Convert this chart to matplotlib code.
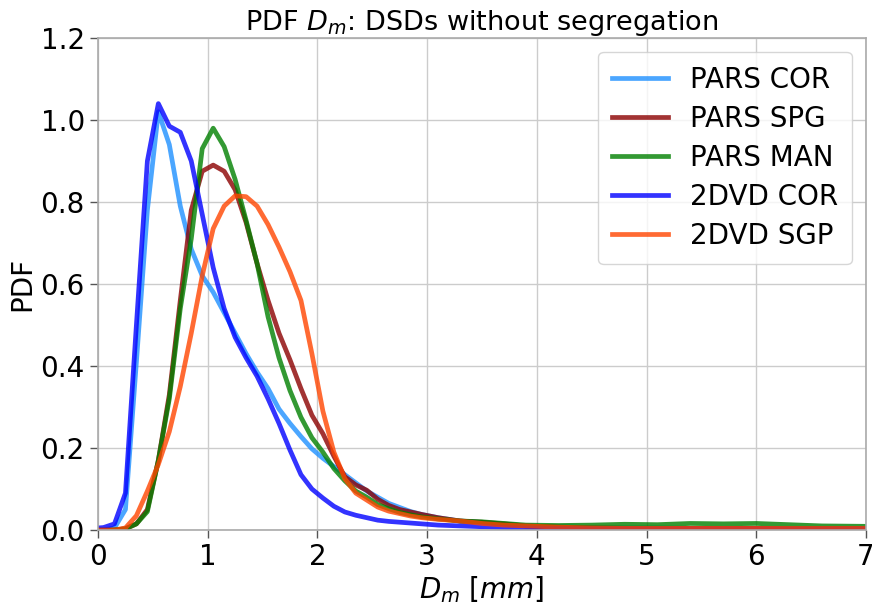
import numpy as np
import matplotlib
matplotlib.use("Agg")
import matplotlib.pyplot as plt

# Dm grid (mm)
dm = [0.0, 0.05, 0.15, 0.25, 0.35, 0.45, 0.55, 0.65, 0.75, 0.85, 0.95,
      1.05, 1.15, 1.25, 1.35, 1.45, 1.55, 1.65, 1.75, 1.85, 1.95,
      2.05, 2.15, 2.25, 2.35, 2.45, 2.55, 2.65, 2.75, 2.85, 2.95,
      3.1, 3.3, 3.5, 3.7, 3.9, 4.2, 4.5, 4.8, 5.1, 5.4, 5.7, 6.0, 6.3, 6.6, 7.0]

pars_cor = [0.0, 0.0, 0.005, 0.05, 0.41, 0.78, 1.02, 0.94, 0.79, 0.685, 0.62,
            0.58, 0.53, 0.48, 0.43, 0.385, 0.345, 0.295, 0.26, 0.228, 0.198,
            0.175, 0.155, 0.135, 0.115, 0.095, 0.08, 0.065, 0.055, 0.045, 0.038,
            0.03, 0.022, 0.018, 0.013, 0.01, 0.008, 0.006, 0.005, 0.005, 0.004, 0.004, 0.004, 0.004, 0.004, 0.004]

pars_spg = [0.0, 0.0, 0.0, 0.003, 0.015, 0.05, 0.17, 0.33, 0.56, 0.78, 0.875,
            0.89, 0.875, 0.83, 0.75, 0.65, 0.56, 0.48, 0.415, 0.345, 0.28,
            0.235, 0.18, 0.13, 0.11, 0.097, 0.075, 0.06, 0.05, 0.044, 0.038,
            0.03, 0.022, 0.019, 0.015, 0.01, 0.007, 0.005, 0.004, 0.004, 0.004, 0.004, 0.004, 0.004, 0.004, 0.004]

pars_man = [0.0, 0.0, 0.0, 0.003, 0.015, 0.045, 0.17, 0.32, 0.54, 0.71, 0.93,
            0.98, 0.935, 0.855, 0.755, 0.65, 0.52, 0.42, 0.34, 0.275, 0.225,
            0.19, 0.15, 0.12, 0.095, 0.08, 0.062, 0.052, 0.043, 0.037, 0.032,
            0.027, 0.022, 0.02, 0.016, 0.012, 0.011, 0.012, 0.014, 0.013, 0.016, 0.015, 0.016, 0.013, 0.01, 0.009]

dvd_cor = [0.005, 0.006, 0.015, 0.09, 0.5, 0.9, 1.04, 0.985, 0.97, 0.90, 0.77,
           0.64, 0.54, 0.47, 0.42, 0.375, 0.32, 0.26, 0.195, 0.135, 0.10,
           0.078, 0.058, 0.044, 0.036, 0.03, 0.024, 0.021, 0.019, 0.017, 0.015,
           0.012, 0.01, 0.008, 0.006, 0.005, 0.004, 0.003, 0.003, 0.003, 0.003, 0.003, 0.003, 0.003, 0.003, 0.003]

dvd_sgp = [0.0, 0.0, 0.0, 0.005, 0.035, 0.095, 0.16, 0.24, 0.35, 0.48, 0.62,
           0.735, 0.79, 0.815, 0.813, 0.79, 0.745, 0.69, 0.63, 0.56, 0.43,
           0.29, 0.19, 0.125, 0.09, 0.073, 0.056, 0.046, 0.04, 0.034, 0.03,
           0.026, 0.022, 0.016, 0.012, 0.01, 0.007, 0.005, 0.004, 0.004, 0.004, 0.004, 0.004, 0.004, 0.004, 0.004]

series = [
    ("PARS COR", pars_cor, "dodgerblue"),
    ("PARS SPG", pars_spg, "darkred"),
    ("PARS MAN", pars_man, "green"),
    ("2DVD COR", dvd_cor, "blue"),
    ("2DVD SGP", dvd_sgp, "orangered"),
]

fig = plt.figure(figsize=(8.72, 6.04), dpi=100)
ax = fig.add_axes([0.1124, 0.1225, 0.8806, 0.8146])

for name, vals, col in series:
    ax.plot(dm, vals, color=col, lw=3.4, alpha=0.8, label=name)

ax.set_xlim(0, 7)
ax.set_ylim(0, 1.2)
ax.set_xticks(range(0, 8))
ax.set_yticks([0.0, 0.2, 0.4, 0.6, 0.8, 1.0, 1.2])
ax.set_yticklabels(["0.0", "0.2", "0.4", "0.6", "0.8", "1.0", "1.2"])
ax.grid(True, color="#cccccc", lw=1.0)
for s in ax.spines.values():
    s.set_color("#aaaaaa")
    s.set_linewidth(1.2)
ax.tick_params(axis="both", labelsize=20, color="#555555", length=6, width=1)
ax.set_xlabel(r"$D_m$ $[mm]$", fontsize=20, labelpad=2)
ax.set_ylabel("PDF", fontsize=20, labelpad=3)
ax.set_title(r"PDF $D_m$: DSDs without segregation", fontsize=19.5, pad=6)
leg = ax.legend(loc="upper right", fontsize=20, handlelength=2.0,
                fancybox=True, framealpha=0.8, edgecolor="#cccccc",
                borderpad=0.5, labelspacing=0.4, handletextpad=0.8)
fig.savefig("out.png", dpi=100)
